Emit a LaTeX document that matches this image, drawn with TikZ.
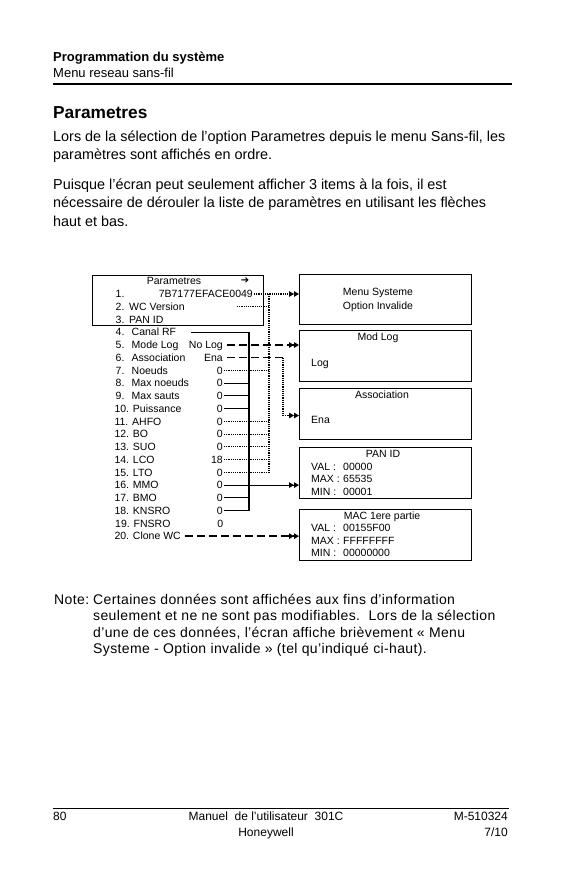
\documentclass[tikz,border=0pt]{standalone}
\usepackage{fontspec}
\setmainfont{Liberation Sans}
\newfontfamily\dejavu{DejaVu Sans}
\newfontfamily\notefont[LetterSpace=2.7]{Liberation Sans}
\usetikzlibrary{arrows.meta}
\begin{document}
\begin{tikzpicture}[x=1pt,y=-1pt,
  dg/.style={inner sep=0pt, text height=7.5pt, text depth=0pt, font=\fontsize{10.5}{12}\selectfont},
  lab/.style={dg, anchor=west},
  val/.style={dg, anchor=east},
  bx/.style={draw, line width=1.1pt, inner sep=0pt, anchor=north west, minimum width=172pt},
  solidl/.style={line width=1.1pt},
  dotl/.style={line width=1.1pt, dash pattern=on 1.2pt off 1pt},
  dashl/.style={line width=1.3pt, dash pattern=on 7.5pt off 4.5pt},
  dbl/.style={-{Triangle[length=5pt,width=5.5pt]Triangle[length=5pt,width=5.5pt]}},
  bodyt/.style={inner sep=0pt, anchor=base west, font=\fontsize{14.4}{17}\selectfont},
  notet/.style={inner sep=0pt, anchor=base west, font=\notefont\fontsize{14}{16}\selectfont},
  foott/.style={inner sep=0pt, font=\fontsize{12}{14}\selectfont}
]
\fill[white] (0,0) rectangle (577,892);
\useasboundingbox (0,0) rectangle (577,892);

% header
\node[inner sep=0pt, anchor=base west, font=\bfseries\fontsize{13}{15}\selectfont] (h1) at (53,61) {Programmation du système};
\node[inner sep=0pt, anchor=base west, font=\fontsize{13}{15}\selectfont] (h2) at (53,77) {Menu reseau sans-fil};
\draw[line width=1.5pt] (53,84) -- (512,84);
\node[inner sep=0pt, anchor=base west, font=\bfseries\fontsize{17.3}{20}\selectfont] (title) at (53,118) {Parametres};
\node[bodyt] (p1) at (53,141) {Lors de la sélection de l’option Parametres depuis le menu Sans-fil, les};
\node[bodyt] (p2) at (53,159.5) {paramètres sont affichés en ordre.};
\node[bodyt] (p3) at (53,189) {Puisque l’écran peut seulement afficher 3 items à la fois, il est};
\node[bodyt] (p4) at (53,207.5) {nécessaire de dérouler la liste de paramètres en utilisant les flèches};
\node[bodyt] (p5) at (53,226) {haut et bas.};

% left box
\node[bx, minimum width=171pt, minimum height=50pt] (LB) at (92,274.5) {};
\node[dg] (ptitle) at (174,281) {Parametres};
\node[inner sep=0pt, font=\dejavu\bfseries\fontsize{10}{11}\selectfont] (parrow) at (245,281) {➔};

% rows
\node[lab] (L1) at (115.5,294.0) {1.};
\node[val] (V1) at (253,294.0) {7B7177EFACE0049};
\node[lab] (L2) at (115.5,306.7) {\makebox[13.5pt][l]{2.}WC Version};
\node[lab] (L3) at (115.5,319.5) {\makebox[13.5pt][l]{3.}PAN ID};
\node[lab] (L4) at (115.5,332.2) {\makebox[16pt][l]{4.}Canal RF};
\node[lab] (L5) at (115.5,345.0) {\makebox[16pt][l]{5.}Mode Log};
\node[val] (V5) at (223,345.0) {No Log};
\node[lab] (L6) at (115.5,357.7) {\makebox[16pt][l]{6.}Association};
\node[val] (V6) at (223,357.7) {Ena};
\node[lab] (L7) at (115.5,370.4) {\makebox[16pt][l]{7.}Noeuds};
\node[val] (V7) at (223,370.4) {0};
\node[lab] (L8) at (115.5,383.2) {\makebox[16pt][l]{8.}Max noeuds};
\node[val] (V8) at (223,383.2) {0};
\node[lab] (L9) at (115.5,395.9) {\makebox[16pt][l]{9.}Max sauts};
\node[val] (V9) at (223,395.9) {0};
\node[lab] (L10) at (114.3,408.7) {10. Puissance};
\node[val] (V10) at (223,408.7) {0};
\node[lab] (L11) at (114.3,421.4) {11. AHFO};
\node[val] (V11) at (223,421.4) {0};
\node[lab] (L12) at (114.3,434.1) {12. BO};
\node[val] (V12) at (223,434.1) {0};
\node[lab] (L13) at (114.3,446.9) {13. SUO};
\node[val] (V13) at (223,446.9) {0};
\node[lab] (L14) at (114.3,459.6) {14. LCO};
\node[val] (V14) at (223,459.6) {18};
\node[lab] (L15) at (114.3,472.4) {15. LTO};
\node[val] (V15) at (223,472.4) {0};
\node[lab] (L16) at (114.3,485.1) {16. MMO};
\node[val] (V16) at (223,485.1) {0};
\node[lab] (L17) at (114.3,497.8) {17. BMO};
\node[val] (V17) at (223,497.8) {0};
\node[lab] (L18) at (114.3,510.6) {18. KNSRO};
\node[val] (V18) at (223,510.6) {0};
\node[lab] (L19) at (115,523.3) {19. FNSRO};
\node[val] (V19) at (223.5,523.3) {0};
\node[lab] (L20) at (114.3,536.1) {20. Clone WC};

% right boxes
\node[bx, minimum height=50.5pt] (B1) at (299,273.5) {};
\node[bx, minimum height=51pt] (B2) at (299,330) {};
\node[bx, minimum height=50.5pt] (B3) at (299,388) {};
\node[bx, minimum height=51pt] (B4) at (299,447) {};
\node[bx, minimum height=50.5pt] (B5) at (299,509) {};

\node[dg] (t1a) at (378,292) {Menu Systeme};
\node[dg] (t1b) at (378,306) {Option Invalide};
\node[dg] (t2a) at (378,337) {Mod Log};
\node[lab] (t2b) at (311,363) {Log};
\node[dg] (t3a) at (382,394.5) {Association};
\node[lab] (t3b) at (311,420) {Ena};
\node[dg] (t4a) at (383,454) {PAN ID};
\node[lab] (t4b) at (311,466.5) {\makebox[32pt][l]{VAL :}00000};
\node[lab] (t4c) at (311,479) {\makebox[32pt][l]{MAX :}65535};
\node[lab] (t4d) at (311,491.5) {\makebox[32pt][l]{MIN :}00001};
\node[dg] (t5a) at (382,515.5) {MAC 1ere partie};
\node[lab] (t5b) at (311,528) {\makebox[32pt][l]{VAL :}00155F00};
\node[lab] (t5c) at (311,540.5) {\makebox[32pt][l]{MAX :}FFFFFFFF};
\node[lab] (t5d) at (311,553) {\makebox[32pt][l]{MIN :}00000000};

% trunks
\coordinate (sTop) at (249,332.2);
\coordinate (sBot) at (249,510.6);
\coordinate (dTop) at (269,294.0);
\coordinate (dBot) at (269,472.4);
\coordinate (c2) at (237,306.7);
\coordinate (e1) at (283,357.7);
\coordinate (e2) at (283,415.5);

\draw[solidl] ([xshift=15pt]L4.east) -- (sTop) -- (sBot);
\draw[dotl] (dTop) -- (dBot);

% connectors
\draw[dotl, dbl] ([xshift=1pt]V1.east) -- (V1.east -| B1.west);
\draw[dotl] (c2) -- (c2 -| dTop);
\draw[dashl, dbl] ([xshift=4pt]V5.east) -- (V5.east -| B2.west);
\draw[dashl] ([xshift=4pt]V6.east) -- (e1);
\draw[dotl] (e1) -- (e2);
\draw[dotl, dbl] (e2) -- (e2 -| B3.west);
\draw[dotl] ([xshift=1pt]V7.east) -- (V7.east -| dTop);
\foreach \i in {8,9,10,17,18} {
  \draw[solidl] ([xshift=1pt]V\i.east) -- (V\i.east -| sTop);
}
\foreach \i in {11,12,13,14,15} {
  \draw[dotl] ([xshift=1pt]V\i.east) -- (V\i.east -| dTop);
}
\draw[solidl, dbl] ([xshift=1pt]V16.east) -- (V16.east -| B4.west);
\draw[dashl, dbl] ([xshift=4pt]L20.east) -- (L20.east -| B5.west);

% note
\node[notet] (n0) at (54,604) {Note:};
\node[notet] (n1) at (93,604) {Certaines données sont affichées aux fins d’information};
\node[notet] (n2) at (93,620.5) {seulement et ne ne sont pas modifiables.\ \ Lors de la sélection};
\node[notet] (n3) at (93,637) {d’une de ces données, l’écran affiche brièvement « Menu};
\node[notet] (n4) at (93,653.5) {Systeme - Option invalide » (tel qu’indiqué ci-haut).};

% footer
\draw[line width=1pt] (53,808) -- (509,808);
\node[foott, anchor=base west] (f1) at (53,820) {80};
\node[foott, anchor=base] (f2) at (266,820) {Manuel\ \ de l’utilisateur\ \ 301C};
\node[foott, anchor=base] (f3) at (266,836) {Honeywell};
\node[foott, anchor=base east] (f4) at (508,820) {M-510324};
\node[foott, anchor=base east] (f5) at (508,836) {7/10};
\end{tikzpicture}
\end{document}
